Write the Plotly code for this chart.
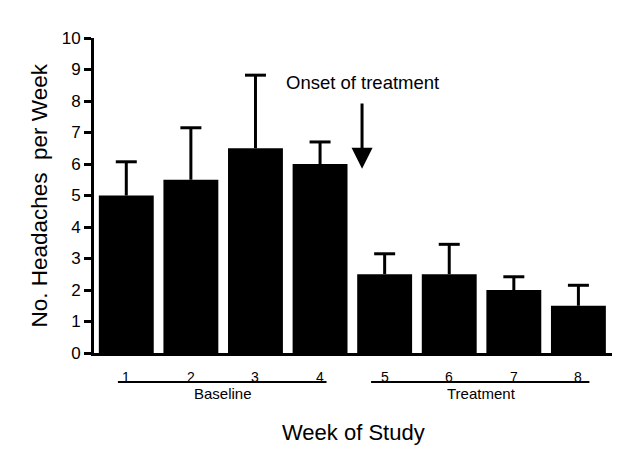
import plotly.graph_objects as go

weeks = [1, 2, 3, 4, 5, 6, 7, 8]
week_labels = ["1", "2", "3", "4", "5", "6", "7", "8"]
headaches = [5.0, 5.5, 6.5, 6.0, 2.5, 2.5, 2.0, 1.5]
sem = [1.07, 1.65, 2.32, 0.70, 0.65, 0.95, 0.42, 0.65]
y_ticks = [0, 1, 2, 3, 4, 5, 6, 7, 8, 9, 10]

FONT = "Liberation Sans, Arial, Helvetica, sans-serif"

tops = [h + e for h, e in zip(headaches, sem)]
stem_x, stem_y = [], []
for w, h, t in zip(weeks, headaches, tops):
    stem_x += [w, w, None]
    stem_y += [h, t, None]

# page body has an 8px default margin; compensate so the plot area lands
# at the same window pixels as the reference
fig = go.Figure()
fig.add_trace(go.Bar(
    x=weeks, y=headaches, width=0.85,
    marker=dict(color="black", line=dict(width=0)),
    showlegend=False, hoverinfo="skip",
))
# upward-only error bars (stem + cap)
fig.add_trace(go.Scatter(
    x=stem_x, y=stem_y, mode="lines",
    line=dict(color="black", width=3),
    showlegend=False, hoverinfo="skip",
))
fig.add_trace(go.Scatter(
    x=weeks, y=tops, mode="markers",
    marker=dict(symbol="line-ew", size=15,
                line=dict(color="black", width=3)),
    showlegend=False, hoverinfo="skip",
))

fig.update_layout(
    width=632, height=441,
    margin=dict(l=86, r=28, t=30, b=96),
    paper_bgcolor="white", plot_bgcolor="white",
    font=dict(family=FONT, color="black"),
    xaxis=dict(range=[0.5, 8.52], showticklabels=False, ticks="",
               showline=True, linewidth=3, linecolor="black",
               showgrid=False, zeroline=False),
    yaxis=dict(range=[0, 10], tickvals=y_ticks, ticks="outside",
               ticklen=7, tickwidth=3, tickcolor="black",
               showline=True, linewidth=3, linecolor="black",
               showgrid=False, zeroline=False,
               tickfont=dict(size=17, family=FONT)),
)

# week numbers
for w, lab in zip(weeks, week_labels):
    fig.add_annotation(x=w, y=0, xref="x", yref="paper", text=lab,
                       showarrow=False, yanchor="top", yshift=-14,
                       font=dict(size=14, family=FONT))

# group underlines and labels
ph = 441 - 30 - 96
yline = -(382 - 353) / ph
fig.add_shape(type="line", xref="x", yref="paper", x0=0.87, x1=4.10,
              y0=yline, y1=yline, line=dict(color="black", width=2))
fig.add_shape(type="line", xref="x", yref="paper", x0=4.79, x1=8.17,
              y0=yline, y1=yline, line=dict(color="black", width=2))
fig.add_annotation(x=2.5, y=yline, xref="x", yref="paper", text="Baseline",
                   showarrow=False, yanchor="top", yshift=-1,
                   font=dict(size=15, family=FONT))
fig.add_annotation(x=6.5, y=yline, xref="x", yref="paper", text="Treatment",
                   showarrow=False, yanchor="top", yshift=-1,
                   font=dict(size=15, family=FONT))

# axis titles
fig.add_annotation(x=0.5, y=0, xref="paper", yref="paper",
                   text="Week of Study", showarrow=False,
                   yanchor="middle", yshift=-(432 - 353),
                   font=dict(size=22, family=FONT))
fig.add_annotation(x=0, y=0.5, xref="paper", yref="paper",
                   text="No. Headaches  per Week", textangle=-90,
                   showarrow=False, xanchor="center", xshift=-(94 - 39),
                   font=dict(size=22.5, family=FONT))

# onset of treatment arrow
fig.add_annotation(x=4.65, y=8.6, xref="x", yref="y",
                   text="Onset of treatment", showarrow=False,
                   font=dict(size=18.5, family=FONT))
fig.add_annotation(x=4.65, y=5.85, ax=4.65, ay=7.97, xref="x", yref="y",
                   axref="x", ayref="y", text="", showarrow=True,
                   arrowhead=2, arrowsize=1.4, arrowwidth=3,
                   arrowcolor="black")

fig.write_html("out.html")
